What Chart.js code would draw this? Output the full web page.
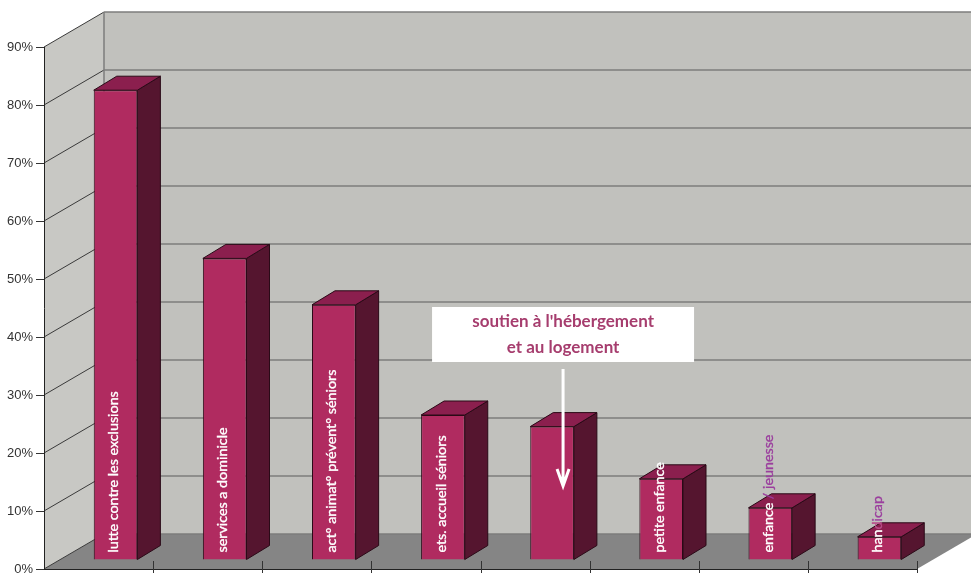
<!DOCTYPE html>
<html>
<head>
<meta charset="utf-8">
<script src="https://cdn.jsdelivr.net/npm/chart.js@4.4.1/dist/chart.umd.min.js"></script>
<style>
  html, body { margin: 0; padding: 0; background: #fff; overflow: hidden; }
  #wrap { width: 971px; height: 573px; position: relative; }
</style>
</head>
<body>
<div id="wrap"><canvas id="chart"></canvas></div>
<script>
// values (share of structures, %)
const categories = [
    "lutte contre les exclusions",
    "services a dominicle",
    "act° animat° prévent° séniors",
    "ets. accueil séniors",
    "soutien à l'hébergement et au logement",
    "petite enfance",
    "enfance / jeunesse",
    "handicap"
];
const shares = [81, 52, 44, 25, 23, 14, 9, 4];
const tickValues = [0, 10, 20, 30, 40, 50, 60, 70, 80, 90];
const calloutLines = ["soutien à l'hébergement", "et au logement"];

// 3D look: wall depth, bar set-back and bar depth
const WALL = { dx: 60, dy: 35 };
const BAR_SHIFT = { dx: 17, dy: -9 };
const BAR_DEPTH = { dx: 23, dy: -14 };
const COLORS = {
    front: "#b02b60", side: "#55152f", top: "#8b1f4e", edge: "#2a0a17",
    backWall: "#c1c1bd", sideWall: "#c8c8c4", floor: "#858585",
    wallLine: "#7d7d7d", purple: "#9b3f9e", callout: "#a63d6e"
};

// how each in-bar label is coloured (index -> segments); default is plain white
const labelSegments = {
    6: [["enfance ", "#ffffff"], ["/ jeunesse", COLORS.purple]],
    7: [["han", "#ffffff"], ["d", "#b8508a"], ["icap", COLORS.purple]]
};

const walls3d = {
    id: "walls3d",
    beforeDraw(chart) {
        const { ctx, chartArea: a, scales: { y } } = chart;
        const W = chart.width;
        const bx = a.left + WALL.dx;
        const top = y.getPixelForValue(90);
        const bottom = y.getPixelForValue(0);
        ctx.save();
        // back wall
        ctx.fillStyle = COLORS.backWall;
        ctx.fillRect(bx, top - WALL.dy, W - bx, bottom - top);
        // side wall
        ctx.fillStyle = COLORS.sideWall;
        ctx.beginPath();
        ctx.moveTo(a.left, top);
        ctx.lineTo(bx, top - WALL.dy);
        ctx.lineTo(bx, bottom - WALL.dy);
        ctx.lineTo(a.left, bottom);
        ctx.closePath();
        ctx.fill();
        // floor
        ctx.fillStyle = COLORS.floor;
        ctx.beginPath();
        ctx.moveTo(a.left, bottom);
        ctx.lineTo(bx, bottom - WALL.dy);
        ctx.lineTo(a.right + WALL.dx, bottom - WALL.dy);
        ctx.lineTo(a.right, bottom);
        ctx.closePath();
        ctx.fill();
        // grid lines on back and side walls
        tickValues.forEach(v => {
            const py = y.getPixelForValue(v);
            ctx.strokeStyle = COLORS.wallLine;
            ctx.lineWidth = 1.5;
            ctx.beginPath();
            ctx.moveTo(bx, py - WALL.dy);
            ctx.lineTo(W, py - WALL.dy);
            ctx.stroke();
            ctx.strokeStyle = "#3a3a3a";
            ctx.lineWidth = 1;
            ctx.beginPath();
            ctx.moveTo(a.left, py);
            ctx.lineTo(bx, py - WALL.dy);
            ctx.stroke();
        });
        ctx.strokeStyle = COLORS.wallLine;
        ctx.lineWidth = 1.5;
        ctx.beginPath();
        ctx.moveTo(bx, top - WALL.dy);
        ctx.lineTo(bx, bottom - WALL.dy);
        ctx.stroke();
        ctx.restore();
    },
    beforeDatasetsDraw(chart) {
        chart.ctx.save();
        chart.ctx.translate(BAR_SHIFT.dx, BAR_SHIFT.dy);
    },
    afterDatasetsDraw(chart) {
        const { ctx, chartArea: a, scales: { x } } = chart;
        const bars = chart.getDatasetMeta(0).data;
        ctx.lineWidth = 1;
        ctx.strokeStyle = COLORS.edge;
        bars.forEach(el => {
            const { x: cx, y: ty, base, width } = el.getProps(["x", "y", "base", "width"], true);
            const l = cx - width / 2, r = cx + width / 2;
            ctx.fillStyle = COLORS.side;
            ctx.beginPath();
            ctx.moveTo(r, ty);
            ctx.lineTo(r + BAR_DEPTH.dx, ty + BAR_DEPTH.dy);
            ctx.lineTo(r + BAR_DEPTH.dx, base + BAR_DEPTH.dy);
            ctx.lineTo(r, base);
            ctx.closePath();
            ctx.fill();
            ctx.stroke();
            ctx.fillStyle = COLORS.top;
            ctx.beginPath();
            ctx.moveTo(l, ty);
            ctx.lineTo(l + BAR_DEPTH.dx, ty + BAR_DEPTH.dy);
            ctx.lineTo(r + BAR_DEPTH.dx, ty + BAR_DEPTH.dy);
            ctx.lineTo(r, ty);
            ctx.closePath();
            ctx.fill();
            ctx.stroke();
        });
        // vertical labels inside the bars
        ctx.font = "14.3px Lato, 'Open Sans', sans-serif";
        ctx.textAlign = "left";
        ctx.textBaseline = "middle";
        ctx.lineWidth = 0.35;
        bars.forEach((el, i) => {
            if (i === 4) return;
            const { x: cx, base } = el.getProps(["x", "base"], true);
            const segs = labelSegments[i] || [[categories[i], "#ffffff"]];
            ctx.save();
            ctx.translate(cx - 2, base - 7);
            ctx.rotate(-Math.PI / 2);
            let off = 0;
            segs.forEach(([t, c]) => {
                ctx.fillStyle = c;
                ctx.strokeStyle = c;
                ctx.fillText(t, off, 0);
                ctx.strokeText(t, off, 0);
                off += ctx.measureText(t).width;
            });
            ctx.restore();
        });
        ctx.restore();

        // callout for the 5th bar
        const bx5 = x.getPixelForValue(4) + BAR_SHIFT.dx + 11;
        ctx.save();
        ctx.fillStyle = "#ffffff";
        ctx.fillRect(bx5 - 131, 307, 262, 55);
        ctx.fillStyle = COLORS.callout;
        ctx.font = "bold 17px Lato, 'Open Sans', sans-serif";
        ctx.textAlign = "center";
        ctx.textBaseline = "middle";
        ctx.fillText(calloutLines[0], bx5, 322);
        ctx.fillText(calloutLines[1], bx5, 348);
        ctx.strokeStyle = "#ffffff";
        ctx.lineWidth = 3;
        ctx.beginPath();
        ctx.moveTo(bx5, 369);
        ctx.lineTo(bx5, 486);
        ctx.moveTo(bx5 - 6, 469);
        ctx.lineTo(bx5, 486);
        ctx.lineTo(bx5 + 6, 469);
        ctx.stroke();
        ctx.restore();

        // category separators on the front edge
        ctx.save();
        ctx.strokeStyle = "#333";
        ctx.lineWidth = 1;
        for (let i = 0; i < categories.length; i++) {
            const px = i < categories.length - 1
                ? (x.getPixelForValue(i) + x.getPixelForValue(i + 1)) / 2
                : a.right;
            ctx.beginPath();
            ctx.moveTo(Math.round(px) + 0.5, a.bottom - 8);
            ctx.lineTo(Math.round(px) + 0.5, chart.height);
            ctx.stroke();
        }
        ctx.restore();
    }
};

new Chart(document.getElementById("chart"), {
    type: "bar",
    data: {
        labels: categories,
        datasets: [{
            data: shares,
            backgroundColor: COLORS.front,
            borderColor: COLORS.edge,
            borderWidth: 1,
            barPercentage: 0.4,
            categoryPercentage: 1.0
        }]
    },
    options: {
        responsive: true,
        maintainAspectRatio: false,
        animation: false,
        layout: { padding: { top: 47, right: 54, left: 0, bottom: 0 } },
        plugins: { legend: { display: false }, tooltip: { enabled: false } },
        scales: {
            x: {
                offset: true,
                grid: { display: false },
                ticks: { display: false },
                border: { color: "#222", width: 1 },
                afterFit: s => { s.height = 4; s.paddingLeft = 0; s.paddingRight = 0; }
            },
            y: {
                min: 0, max: 90,
                ticks: {
                    stepSize: 10, padding: 3, color: "#333",
                    font: { family: "'Liberation Sans', Arial, sans-serif", size: 13 },
                    callback: v => v + "%"
                },
                grid: { drawOnChartArea: false, tickLength: 8, color: "#333" },
                border: { color: "#222", width: 1 },
                afterFit: s => { s.width = 44; s.paddingTop = 0; s.paddingBottom = 0; }
            }
        }
    },
    plugins: [walls3d]
});
</script>
</body>
</html>
